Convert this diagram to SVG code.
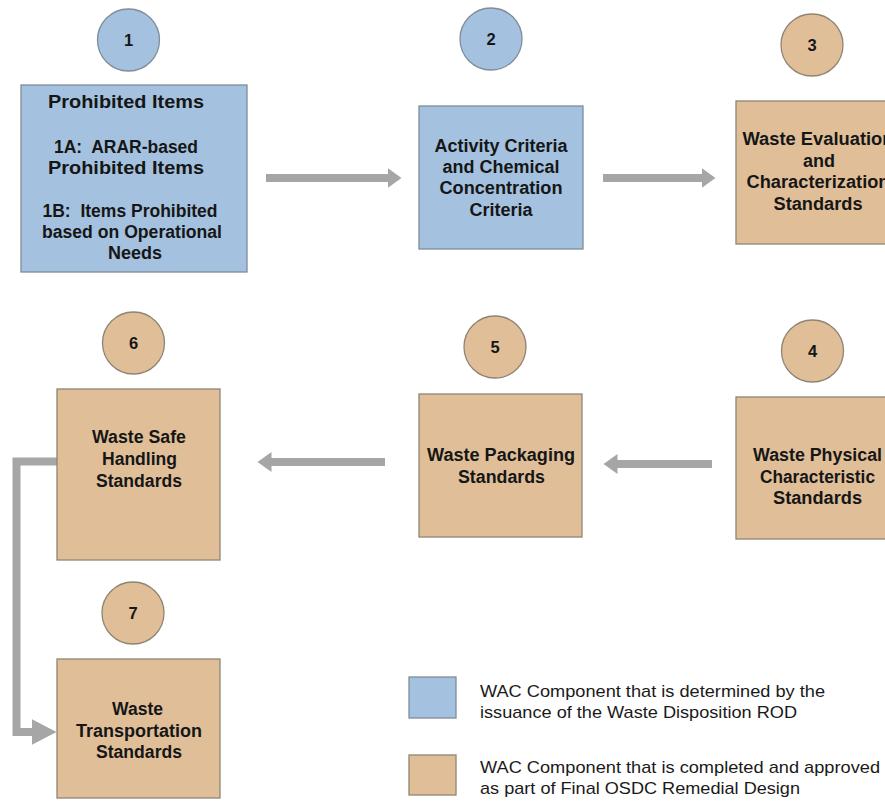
<svg xmlns="http://www.w3.org/2000/svg" width="885" height="802" viewBox="0 0 885 802">
<style>
.blue{fill:#a4c2df;stroke:#7f8c9a;stroke-width:1.3}
.tan{fill:#e0bf98;stroke:#8f8474;stroke-width:1.3}
.t{font-family:"Liberation Sans",Arial,sans-serif;font-weight:bold;font-size:17.5px;fill:#161616;text-anchor:middle}
.n{font-family:"Liberation Sans",Arial,sans-serif;font-weight:bold;font-size:16.5px;fill:#161616;text-anchor:middle}
.lg{font-family:"Liberation Sans",Arial,sans-serif;font-size:17px;fill:#1a1a1a}
.conn{fill:none;stroke:#a6a6a6;stroke-width:8}
</style>
<defs>
<marker id="ah" markerUnits="userSpaceOnUse" markerWidth="15" markerHeight="22" viewBox="0 -11 15 22" refX="0.5" refY="0" orient="auto">
<path d="M0,-10 L14,0 L0,10 z" fill="#a6a6a6"/>
</marker>
<marker id="ahb" markerUnits="userSpaceOnUse" markerWidth="26" markerHeight="28" viewBox="0 -14 26 28" refX="0.5" refY="0" orient="auto">
<path d="M0,-13 L25,0 L0,13 z" fill="#a6a6a6"/>
</marker>
</defs>
<g id="connectors">
<path class="conn" d="M266,178 H388" marker-end="url(#ah)"/>
<path class="conn" d="M603,178 H702" marker-end="url(#ah)"/>
<path class="conn" d="M712,464 H617" marker-end="url(#ah)"/>
<path class="conn" d="M385,462 H271" marker-end="url(#ah)"/>
<path class="conn" d="M57,461.5 H16.5 V732 H32" marker-end="url(#ahb)"/>
</g>
<g id="node1">
<circle class="blue" cx="128.5" cy="40" r="31"/>
<text class="n" x="128.5" y="46">1</text>
<rect class="blue" x="21" y="85" width="226" height="187"/>
<text class="t" x="126" y="108" textLength="156" lengthAdjust="spacingAndGlyphs">Prohibited Items</text>
<text class="t" x="126" y="153" textLength="144" lengthAdjust="spacingAndGlyphs" xml:space="preserve">1A:  ARAR-based</text>
<text class="t" x="126" y="174" textLength="156" lengthAdjust="spacingAndGlyphs">Prohibited Items</text>
<text class="t" x="130" y="217" textLength="175" lengthAdjust="spacingAndGlyphs" xml:space="preserve">1B:  Items Prohibited</text>
<text class="t" x="132" y="238" textLength="180" lengthAdjust="spacingAndGlyphs">based on Operational</text>
<text class="t" x="135" y="259" textLength="54" lengthAdjust="spacingAndGlyphs">Needs</text>
</g>
<g id="node2">
<circle class="blue" cx="491" cy="39" r="31"/>
<text class="n" x="491" y="45">2</text>
<rect class="blue" x="419" y="106" width="164" height="143"/>
<text class="t" x="501" y="152" textLength="133" lengthAdjust="spacingAndGlyphs">Activity Criteria</text>
<text class="t" x="501" y="173" textLength="117" lengthAdjust="spacingAndGlyphs">and Chemical</text>
<text class="t" x="501" y="194" textLength="123" lengthAdjust="spacingAndGlyphs">Concentration</text>
<text class="t" x="501" y="216" textLength="63" lengthAdjust="spacingAndGlyphs">Criteria</text>
</g>
<g id="node3">
<circle class="tan" cx="812" cy="45" r="31"/>
<text class="n" x="812" y="51">3</text>
<rect class="tan" x="736" y="101" width="160" height="143"/>
<text class="t" x="818" y="145" textLength="151" lengthAdjust="spacingAndGlyphs">Waste Evaluation</text>
<text class="t" x="819" y="167" textLength="32" lengthAdjust="spacingAndGlyphs">and</text>
<text class="t" x="818" y="188" textLength="143" lengthAdjust="spacingAndGlyphs">Characterization</text>
<text class="t" x="818" y="210" textLength="89" lengthAdjust="spacingAndGlyphs">Standards</text>
</g>
<g id="node4">
<circle class="tan" cx="812.5" cy="351" r="31"/>
<text class="n" x="812.5" y="357">4</text>
<rect class="tan" x="736" y="397" width="160" height="142"/>
<text class="t" x="817.5" y="461" textLength="129" lengthAdjust="spacingAndGlyphs">Waste Physical</text>
<text class="t" x="817.5" y="483" textLength="115" lengthAdjust="spacingAndGlyphs">Characteristic</text>
<text class="t" x="817.5" y="504" textLength="89" lengthAdjust="spacingAndGlyphs">Standards</text>
</g>
<g id="node5">
<circle class="tan" cx="495" cy="347" r="31"/>
<text class="n" x="495" y="353">5</text>
<rect class="tan" x="419" y="394" width="163" height="143"/>
<text class="t" x="501" y="461" textLength="148" lengthAdjust="spacingAndGlyphs">Waste Packaging</text>
<text class="t" x="501.5" y="483" textLength="87" lengthAdjust="spacingAndGlyphs">Standards</text>
</g>
<g id="node6">
<circle class="tan" cx="133.5" cy="343" r="31"/>
<text class="n" x="133.5" y="349">6</text>
<rect class="tan" x="57" y="389" width="163" height="171"/>
<text class="t" x="139" y="443" textLength="94" lengthAdjust="spacingAndGlyphs">Waste Safe</text>
<text class="t" x="139.5" y="465" textLength="75" lengthAdjust="spacingAndGlyphs">Handling</text>
<text class="t" x="139" y="487" textLength="86" lengthAdjust="spacingAndGlyphs">Standards</text>
</g>
<g id="node7">
<circle class="tan" cx="133" cy="613" r="31"/>
<text class="n" x="133" y="619">7</text>
<rect class="tan" x="57" y="659" width="163" height="139"/>
<text class="t" x="137.5" y="715" textLength="51" lengthAdjust="spacingAndGlyphs">Waste</text>
<text class="t" x="139" y="737" textLength="126" lengthAdjust="spacingAndGlyphs">Transportation</text>
<text class="t" x="139" y="758" textLength="86" lengthAdjust="spacingAndGlyphs">Standards</text>
</g>
<g id="legend">
<rect class="blue" x="409" y="677" width="47" height="41"/>
<text class="lg" x="480" y="697" textLength="345" lengthAdjust="spacingAndGlyphs">WAC Component that is determined by the</text>
<text class="lg" x="480" y="718" textLength="317" lengthAdjust="spacingAndGlyphs">issuance of the Waste Disposition ROD</text>
<rect class="tan" x="409" y="755" width="47" height="40"/>
<text class="lg" x="480" y="773" textLength="400" lengthAdjust="spacingAndGlyphs">WAC Component that is completed and approved</text>
<text class="lg" x="480" y="794" textLength="320" lengthAdjust="spacingAndGlyphs">as part of Final OSDC Remedial Design</text>
</g>
</svg>
